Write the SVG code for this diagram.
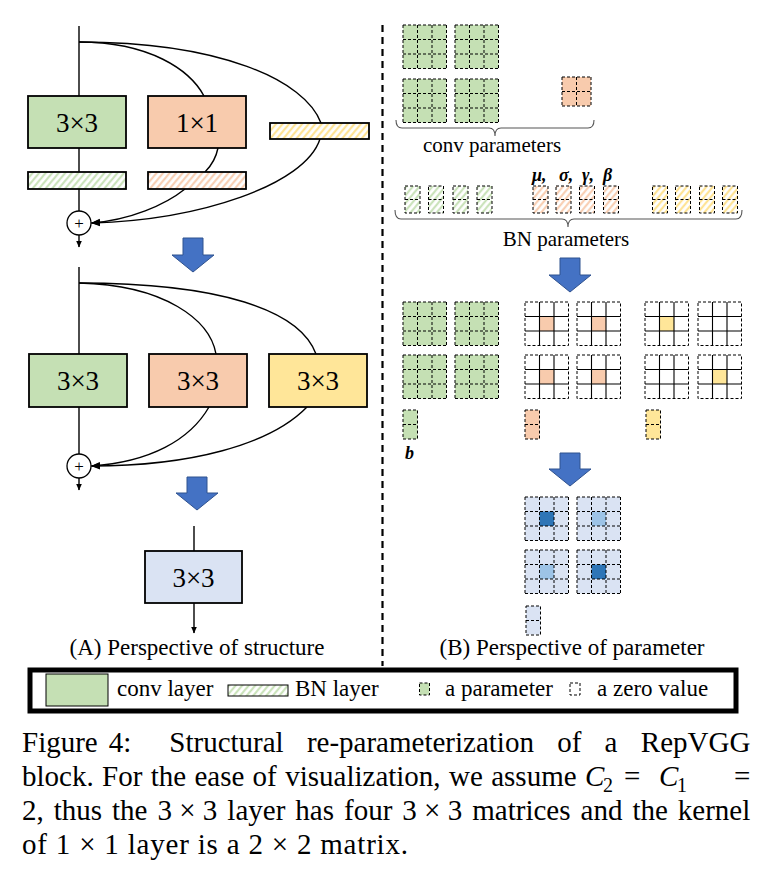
<svg xmlns="http://www.w3.org/2000/svg" xmlns:xlink="http://www.w3.org/1999/xlink" width="775" height="876" viewBox="0 0 775 876">
<style>
text{font-family:'Liberation Serif','Times New Roman',serif;fill:#000}
.box{stroke:#000;stroke-width:1.8}
.lbl{font-size:27px;text-anchor:middle}
.con{fill:none;stroke:#000;stroke-width:1.4}
.dash{fill:none;stroke:#000;stroke-width:1;stroke-dasharray:3 2}
.sol{fill:none;stroke:#000;stroke-width:1.1}
.brace{fill:none;stroke:#555;stroke-width:1.1}
.barrow{fill:#4472C4;stroke:#2F528F;stroke-width:1}
.sub{font-size:23px;text-anchor:middle}
.mid{font-size:21px;text-anchor:middle}
.leg{font-size:23px}
.cap{font-size:29px}
.gk{font-size:18px;font-weight:bold;font-style:italic}
</style>
<defs>
<marker id="ah" markerWidth="9" markerHeight="8" refX="8.5" refY="4" orient="auto" markerUnits="userSpaceOnUse"><path d="M0,0.5 L9,4 L0,7.5 z" fill="#000"/></marker>
<marker id="ahs" markerWidth="7" markerHeight="7" refX="6.5" refY="3.5" orient="auto" markerUnits="userSpaceOnUse"><path d="M0,0.5 L7,3.5 L0,6.5 z" fill="#000"/></marker>
<pattern id="hg" width="5" height="5" patternUnits="userSpaceOnUse" patternTransform="rotate(40)"><rect width="5" height="5" fill="#fff"/><line x1="1.2" y1="0" x2="1.2" y2="5" stroke="#C5E0B4" stroke-width="2"/></pattern>
<pattern id="ho" width="5" height="5" patternUnits="userSpaceOnUse" patternTransform="rotate(40)"><rect width="5" height="5" fill="#fff"/><line x1="1.2" y1="0" x2="1.2" y2="5" stroke="#F8CBAD" stroke-width="2"/></pattern>
<pattern id="hy" width="5" height="5" patternUnits="userSpaceOnUse" patternTransform="rotate(40)"><rect width="5" height="5" fill="#fff"/><line x1="1.2" y1="0" x2="1.2" y2="5" stroke="#FFE18A" stroke-width="2"/></pattern>
<path id="grid3d" class="dash" d="M0,0H43.5M0,14.5H43.5M0,29H43.5M0,43.5H43.5M0,0V43.5M14.5,0V43.5M29,0V43.5M43.5,0V43.5"/>
<g id="gm"><rect width="43.5" height="43.5" fill="#C5E0B4"/><use xlink:href="#grid3d"/></g>
<g id="wl"><rect width="43.5" height="43.5" class="dash"/><path class="sol" d="M0,14.5H43.5M0,29H43.5M14.5,0V43.5M29,0V43.5"/></g>
<g id="om"><rect x="14.5" y="14.5" width="14.5" height="14.5" fill="#F8CBAD"/><use xlink:href="#wl"/></g>
<g id="ym"><rect x="14.5" y="14.5" width="14.5" height="14.5" fill="#FFE699"/><use xlink:href="#wl"/></g>
<g id="bmd"><rect width="43.5" height="43.5" fill="#DAE3F3"/><rect x="14.5" y="14.5" width="14.5" height="14.5" fill="#2E75B6"/><use xlink:href="#grid3d"/></g>
<g id="bml"><rect width="43.5" height="43.5" fill="#DAE3F3"/><rect x="14.5" y="14.5" width="14.5" height="14.5" fill="#9DC3E6"/><use xlink:href="#grid3d"/></g>
<path id="vec" class="dash" d="M0,0H14.5V29H0ZM0,14.5H14.5"/>
<path id="bnc" class="dash" d="M0,0H15V27H0ZM0,13.5H15"/>
</defs>

<!-- separator -->
<line x1="382.5" y1="25" x2="382.5" y2="666" stroke="#000" stroke-width="2.2" stroke-dasharray="7 5"/>

<!-- connectors -->
<g id="connectors">
<line class="con" x1="79" y1="26" x2="79" y2="211"/>
<line class="con" x1="79" y1="235" x2="79" y2="247" marker-end="url(#ahs)"/>
<path class="con" d="M79,42 C150,42 190,70 204,96"/>
<path class="con" d="M218,148 C216,158 212,165 205,172"/>
<path class="con" d="M185,189 C165,205 130,220 91.5,223" marker-end="url(#ah)"/>
<path class="con" d="M79,42 C220,42 305,80 321,123"/>
<path class="con" d="M320,139 C305,185 200,220 91.5,223" marker-end="url(#ah)"/>
<line class="con" x1="79" y1="267" x2="79" y2="454"/>
<line class="con" x1="79" y1="478" x2="79" y2="490" marker-end="url(#ahs)"/>
<path class="con" d="M79,283 C165,285 210,320 216,354"/>
<path class="con" d="M209,407 C190,440 150,462 91.5,466" marker-end="url(#ah)"/>
<path class="con" d="M79,283 C220,283 300,310 316,354"/>
<path class="con" d="M307,407 C270,445 190,466 91.5,466" marker-end="url(#ah)"/>
<line class="con" x1="194" y1="526" x2="194" y2="551"/>
<line class="con" x1="194" y1="603" x2="194" y2="633" marker-end="url(#ahs)"/>
</g>

<!-- structure 1 nodes -->
<g id="s1-conv3"><rect class="box" x="28" y="96" width="98" height="52" fill="#C5E0B4"/><text class="lbl" x="77" y="131.5">3×3</text></g>
<g id="s1-conv1"><rect class="box" x="148" y="96" width="98" height="52" fill="#F8CBAD"/><text class="lbl" x="197" y="131.5">1×1</text></g>
<g id="s1-bn-id"><rect class="box" x="270" y="123" width="99" height="16" fill="url(#hy)"/></g>
<g id="s1-bn3"><rect class="box" x="28" y="172" width="98" height="17" fill="url(#hg)"/></g>
<g id="s1-bn1"><rect class="box" x="148" y="172" width="98" height="17" fill="url(#ho)"/></g>
<g id="s1-add"><circle cx="79" cy="223" r="12" fill="#fff" stroke="#000" stroke-width="1.3"/><text x="79" y="229" font-size="17" text-anchor="middle">+</text></g>

<!-- structure 2 nodes -->
<g id="s2-a"><rect class="box" x="29" y="354" width="98" height="53" fill="#C5E0B4"/><text class="lbl" x="78" y="390">3×3</text></g>
<g id="s2-b"><rect class="box" x="149" y="354" width="98" height="53" fill="#F8CBAD"/><text class="lbl" x="198" y="390">3×3</text></g>
<g id="s2-c"><rect class="box" x="269" y="354" width="98" height="53" fill="#FFE699"/><text class="lbl" x="318" y="390">3×3</text></g>
<g id="s2-add"><circle cx="79" cy="466" r="12" fill="#fff" stroke="#000" stroke-width="1.3"/><text x="79" y="472" font-size="17" text-anchor="middle">+</text></g>

<!-- structure 3 -->
<g id="s3"><rect class="box" x="145" y="551" width="97" height="52" fill="#DAE3F3"/><text class="lbl" x="193.5" y="586.5">3×3</text></g>

<!-- blue arrows -->
<g id="arrows">
<polygon class="barrow" points="183,238 203,238 203,255 214,255 193,272 172,255 183,255"/>
<polygon class="barrow" points="187,477 207,477 207,493 218,493 197,510 176,493 187,493"/>
<polygon class="barrow" points="560,258 580,258 580,275 591,275 570,292 549,275 560,275"/>
<polygon class="barrow" points="560,453 580,453 580,469 591,469 570,486 549,469 560,469"/>
</g>

<text class="sub" x="197" y="655">(A) Perspective of structure</text>
<text class="sub" x="572" y="655">(B) Perspective of parameter</text>

<!-- conv parameters -->
<g id="conv-params">
<use xlink:href="#gm" x="403" y="25"/>
<use xlink:href="#gm" x="455" y="25"/>
<use xlink:href="#gm" x="403" y="79"/>
<use xlink:href="#gm" x="455" y="79"/>
<rect x="562" y="77" width="29" height="29" fill="#F8CBAD"/>
<path class="dash" d="M562,77H591M562,91.5H591M562,106H591M562,77V106M576.5,77V106M591,77V106"/>
<path class="brace" d="M396,120 Q396,128 402,128 L489,128 Q495,128 495,136 Q495,128 501,128 L588,128 Q594,128 594,120"/>
<text class="mid" x="492" y="152">conv parameters</text>
</g>

<!-- BN parameters -->
<g id="bn-params">
<rect x="405" y="186" width="15" height="27" fill="url(#hg)"/><use xlink:href="#bnc" x="405" y="186"/>
<rect x="428.5" y="186" width="15" height="27" fill="url(#hg)"/><use xlink:href="#bnc" x="428.5" y="186"/>
<rect x="453" y="186" width="15" height="27" fill="url(#hg)"/><use xlink:href="#bnc" x="453" y="186"/>
<rect x="477" y="186" width="15" height="27" fill="url(#hg)"/><use xlink:href="#bnc" x="477" y="186"/>
<rect x="533" y="186" width="15" height="27" fill="url(#ho)"/><use xlink:href="#bnc" x="533" y="186"/>
<rect x="556" y="186" width="15" height="27" fill="url(#ho)"/><use xlink:href="#bnc" x="556" y="186"/>
<rect x="579.5" y="186" width="15" height="27" fill="url(#ho)"/><use xlink:href="#bnc" x="579.5" y="186"/>
<rect x="603.5" y="186" width="15" height="27" fill="url(#ho)"/><use xlink:href="#bnc" x="603.5" y="186"/>
<rect x="652.5" y="186" width="15" height="27" fill="url(#hy)"/><use xlink:href="#bnc" x="652.5" y="186"/>
<rect x="675.5" y="186" width="15" height="27" fill="url(#hy)"/><use xlink:href="#bnc" x="675.5" y="186"/>
<rect x="699.5" y="186" width="15" height="27" fill="url(#hy)"/><use xlink:href="#bnc" x="699.5" y="186"/>
<rect x="722.5" y="186" width="15" height="27" fill="url(#hy)"/><use xlink:href="#bnc" x="722.5" y="186"/>
<text class="gk" x="532" y="181">μ,</text>
<text class="gk" x="559" y="181">σ,</text>
<text class="gk" x="582" y="181">γ,</text>
<text class="gk" x="603" y="181">β</text>
<path class="brace" d="M395,210 Q395,219 401,219 L562,219 Q568,219 568,227 Q568,219 574,219 L736,219 Q742,219 742,210"/>
<text class="mid" x="566" y="246">BN parameters</text>
</g>

<!-- fused per-branch kernels -->
<g id="branch-kernels">
<use xlink:href="#gm" x="403" y="302"/>
<use xlink:href="#gm" x="455" y="302"/>
<use xlink:href="#gm" x="403" y="355"/>
<use xlink:href="#gm" x="455" y="355"/>
<use xlink:href="#om" x="525" y="302"/>
<use xlink:href="#om" x="577" y="302"/>
<use xlink:href="#om" x="525" y="355"/>
<use xlink:href="#om" x="577" y="355"/>
<use xlink:href="#ym" x="645" y="302"/>
<use xlink:href="#wl" x="698" y="302"/>
<use xlink:href="#wl" x="645" y="355"/>
<use xlink:href="#ym" x="698" y="355"/>
<rect x="403" y="410" width="14.5" height="29" fill="#C5E0B4"/><use xlink:href="#vec" x="403" y="410"/>
<rect x="525" y="410" width="14.5" height="29" fill="#F8CBAD"/><use xlink:href="#vec" x="525" y="410"/>
<rect x="646" y="410" width="14.5" height="29" fill="#FFE699"/><use xlink:href="#vec" x="646" y="410"/>
<text class="gk" x="405" y="459">b</text>
</g>

<!-- final kernel -->
<g id="final-kernel">
<use xlink:href="#bmd" x="525" y="497"/>
<use xlink:href="#bml" x="577" y="497"/>
<use xlink:href="#bml" x="525" y="550"/>
<use xlink:href="#bmd" x="577" y="550"/>
<rect x="526" y="606" width="14.5" height="28.5" fill="#DAE3F3"/><use xlink:href="#vec" x="526" y="606"/>
</g>

<!-- legend -->
<g id="legend">
<rect x="30" y="670" width="706" height="41" fill="none" stroke="#000" stroke-width="5"/>
<rect x="46" y="674" width="62" height="32" fill="#C5E0B4" stroke="#000" stroke-width="1"/>
<text class="leg" x="117" y="696">conv layer</text>
<rect x="228" y="685" width="60" height="11" fill="url(#hg)" stroke="#000" stroke-width="1"/>
<text class="leg" x="295" y="696">BN layer</text>
<rect x="419.5" y="683" width="10" height="12" fill="#C5E0B4"/><rect class="dash" x="419.5" y="683" width="10" height="12"/>
<text class="leg" x="445" y="696">a parameter</text>
<rect class="dash" x="570" y="683" width="10" height="12"/>
<text class="leg" x="597" y="696">a zero value</text>
</g>

<!-- caption -->
<g id="caption">
<text class="cap" y="752"><tspan x="22">Figure</tspan><tspan x="108.7">4:</tspan><tspan x="169.3">Structural</tspan><tspan x="306.9">re-parameterization</tspan><tspan x="557.2">of</tspan><tspan x="604.6">a</tspan><tspan x="640.8">RepVGG</tspan></text>
<text class="cap" y="786"><tspan x="22">block.</tspan><tspan x="102">For</tspan><tspan x="150.7">the</tspan><tspan x="194.4">ease</tspan><tspan x="252.6">of</tspan><tspan x="285.2">visualization,</tspan><tspan x="449">we</tspan><tspan x="491.2">assume</tspan><tspan x="585" font-style="italic">C</tspan><tspan x="603" dy="6" font-size="20">2</tspan><tspan x="624" dy="-6">=</tspan><tspan x="659" font-style="italic">C</tspan><tspan x="677" dy="6" font-size="20">1</tspan><tspan x="734" dy="-6">=</tspan></text>
<text class="cap" y="820"><tspan x="22">2,</tspan><tspan x="53.75">thus</tspan><tspan x="112.05">the</tspan><tspan x="157.45">3 × 3</tspan><tspan x="227.35">layer</tspan><tspan x="295.35">has</tspan><tspan x="344.05">four</tspan><tspan x="402.35">3 × 3</tspan><tspan x="472.25">matrices</tspan><tspan x="580.55">and</tspan><tspan x="632.45">the</tspan><tspan x="677.85">kernel</tspan></text>
<text class="cap" x="22" y="854" textLength="386" lengthAdjust="spacing">of 1 × 1 layer is a 2 × 2 matrix.</text>
</g>
</svg>
